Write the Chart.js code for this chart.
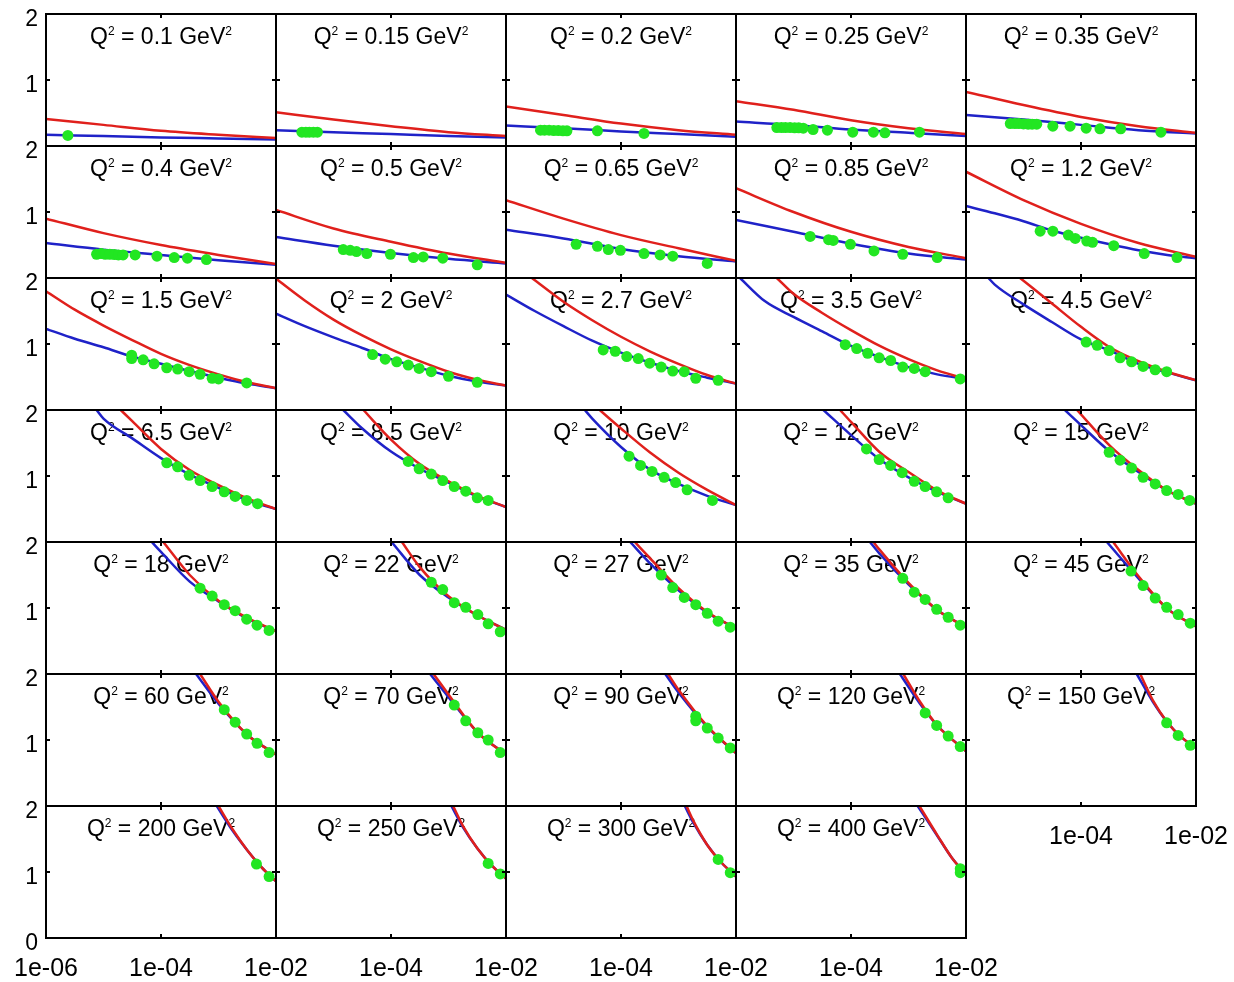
<!DOCTYPE html>
<html>
<head>
<meta charset="utf-8">
<title>F2 vs x</title>
<script src="https://cdn.jsdelivr.net/npm/chart.js@4/dist/chart.umd.min.js"></script>
<style>
  html, body { margin: 0; padding: 0; background: #fff; overflow: hidden; }
  #grid { position: relative; width: 1234px; height: 982px; overflow: hidden; }
  #grid canvas { position: absolute; }
</style>
</head>
<body>
<div id="grid"></div>
<script>
// Q^2 of each panel, row by row
const q2Labels = ['0.1', '0.15', '0.2', '0.25', '0.35',
  '0.4', '0.5', '0.65', '0.85', '1.2',
  '1.5', '2', '2.7', '3.5', '4.5',
  '6.5', '8.5', '10', '12', '15',
  '18', '22', '27', '35', '45',
  '60', '70', '90', '120', '150',
  '200', '250', '300', '400'];

// curves as [log10(x), value]
const redCurves = [
  [[-6, 0.41], [-5, 0.32], [-4, 0.23], [-3, 0.17], [-2, 0.12]],
  [[-6, 0.51], [-5, 0.40], [-4, 0.30], [-3, 0.21], [-2, 0.15]],
  [[-6, 0.60], [-5, 0.47], [-4, 0.34], [-3, 0.24], [-2, 0.17]],
  [[-6, 0.68], [-5, 0.55], [-4, 0.39], [-3, 0.27], [-2, 0.18]],
  [[-6, 0.82], [-5, 0.62], [-4, 0.44], [-3, 0.30], [-2, 0.20]],
  [[-6, 0.90], [-5, 0.68], [-4, 0.50], [-3, 0.35], [-2, 0.21]],
  [[-6, 1.03], [-5, 0.75], [-4, 0.55], [-3, 0.37], [-2, 0.23]],
  [[-6, 1.18], [-5, 0.90], [-4, 0.65], [-3, 0.45], [-2, 0.26]],
  [[-6, 1.36], [-5, 1.00], [-4, 0.70], [-3, 0.47], [-2, 0.30]],
  [[-6, 1.61], [-5, 1.18], [-4, 0.82], [-3, 0.53], [-2, 0.32]],
  [[-6, 1.80], [-5.5, 1.52], [-5, 1.28], [-4.5, 1.06], [-4, 0.85], [-3.5, 0.68], [-3, 0.54], [-2.5, 0.42], [-2, 0.33]],
  [[-6, 1.99], [-5.5, 1.66], [-5, 1.37], [-4.5, 1.13], [-4, 0.92], [-3.5, 0.74], [-3, 0.58], [-2.5, 0.46], [-2, 0.37]],
  [[-5.55, 2.0], [-5, 1.64], [-4.5, 1.36], [-4, 1.11], [-3.5, 0.89], [-3, 0.70], [-2.5, 0.53], [-2, 0.40]],
  [[-5.29, 2.0], [-5, 1.76], [-4.5, 1.47], [-4, 1.21], [-3.5, 0.97], [-3, 0.77], [-2.5, 0.60], [-2, 0.47]],
  [[-5.06, 2.0], [-4.5, 1.61], [-4, 1.26], [-3.5, 0.95], [-3, 0.74], [-2.5, 0.58], [-2, 0.45]],
  [[-4.70, 2.0], [-4.5, 1.83], [-4, 1.41], [-3.5, 1.09], [-3, 0.86], [-2.5, 0.66], [-2, 0.50]],
  [[-4.48, 2.0], [-4, 1.55], [-3.5, 1.18], [-3, 0.92], [-2.5, 0.70], [-2, 0.53]],
  [[-4.37, 2.0], [-4, 1.72], [-3.5, 1.36], [-3, 1.05], [-2.5, 0.79], [-2, 0.56]],
  [[-4.19, 2.0], [-4, 1.82], [-3.5, 1.36], [-3, 1.06], [-2.5, 0.78], [-2, 0.58]],
  [[-4.07, 2.0], [-3.5, 1.46], [-3, 1.09], [-2.5, 0.78], [-2, 0.58]],
  [[-3.96, 2.0], [-3.5, 1.50], [-3, 1.11], [-2.5, 0.85], [-2, 0.65]],
  [[-3.81, 2.0], [-3.5, 1.62], [-3, 1.18], [-2.5, 0.89], [-2, 0.67]],
  [[-3.76, 2.0], [-3.5, 1.76], [-3, 1.30], [-2.5, 0.94], [-2, 0.69]],
  [[-3.61, 2.0], [-3.5, 1.88], [-3, 1.38], [-2.5, 0.97], [-2, 0.71]],
  [[-3.44, 2.0], [-3, 1.48], [-2.5, 0.99], [-2, 0.72]],
  [[-3.32, 2.0], [-3, 1.58], [-2.5, 1.08], [-2, 0.78]],
  [[-3.26, 2.0], [-3, 1.69], [-2.5, 1.12], [-2, 0.78]],
  [[-3.18, 2.0], [-3, 1.76], [-2.5, 1.21], [-2, 0.80]],
  [[-3.09, 2.0], [-2.8, 1.58], [-2.5, 1.22], [-2, 0.83]],
  [[-2.97, 2.0], [-2.75, 1.60], [-2.5, 1.27], [-2.25, 1.04], [-2, 0.88]],
  [[-3.0, 2.0], [-2.75, 1.64], [-2.5, 1.33], [-2.25, 1.07], [-2, 0.86]],
  [[-2.92, 2.0], [-2.75, 1.70], [-2.5, 1.36], [-2.25, 1.10], [-2, 0.90]],
  [[-2.86, 2.0], [-2.75, 1.79], [-2.5, 1.41], [-2.25, 1.14], [-2, 0.93]],
  [[-2.81, 2.0], [-2.5, 1.56], [-2.25, 1.22], [-2, 0.96]]
];

const blueCurves = [
  [[-6, 0.17], [-5, 0.15], [-4, 0.13], [-3, 0.115], [-2, 0.10]],
  [[-6, 0.24], [-5, 0.21], [-4, 0.18], [-3, 0.15], [-2, 0.13]],
  [[-6, 0.31], [-5, 0.27], [-4, 0.22], [-3, 0.18], [-2, 0.14]],
  [[-6, 0.37], [-5, 0.32], [-4, 0.25], [-3, 0.20], [-2, 0.15]],
  [[-6, 0.47], [-5, 0.40], [-4, 0.32], [-3, 0.24], [-2, 0.19]],
  [[-6, 0.53], [-5, 0.43], [-4, 0.35], [-3, 0.27], [-2, 0.20]],
  [[-6, 0.62], [-5, 0.49], [-4, 0.38], [-3, 0.29], [-2, 0.22]],
  [[-6, 0.73], [-5, 0.60], [-4, 0.44], [-3, 0.33], [-2, 0.25]],
  [[-6, 0.88], [-5, 0.70], [-4, 0.52], [-3, 0.37], [-2, 0.28]],
  [[-6, 1.09], [-5.5, 0.98], [-5, 0.86], [-4.5, 0.72], [-4, 0.61], [-3.5, 0.51], [-3, 0.42], [-2.5, 0.35], [-2, 0.30]],
  [[-6, 1.23], [-5.5, 1.08], [-5, 0.95], [-4.5, 0.81], [-4, 0.70], [-3.5, 0.59], [-3, 0.49], [-2.5, 0.40], [-2, 0.33]],
  [[-6, 1.46], [-5.5, 1.27], [-5, 1.10], [-4.5, 0.94], [-4, 0.77], [-3.5, 0.64], [-3, 0.52], [-2.5, 0.43], [-2, 0.37]],
  [[-6, 1.75], [-5.5, 1.50], [-5, 1.27], [-4.5, 1.05], [-4, 0.87], [-3.5, 0.72], [-3, 0.59], [-2.5, 0.49], [-2, 0.40]],
  [[-5.93, 2.0], [-5.5, 1.65], [-5, 1.41], [-4.5, 1.19], [-4, 0.97], [-3.5, 0.80], [-3, 0.65], [-2.5, 0.54], [-2, 0.47]],
  [[-5.61, 2.0], [-5.5, 1.90], [-5, 1.60], [-4.5, 1.33], [-4, 1.07], [-3.5, 0.90], [-3, 0.70], [-2.5, 0.57], [-2, 0.45]],
  [[-5.12, 2.0], [-5, 1.87], [-4.5, 1.57], [-4, 1.27], [-3.5, 1.02], [-3, 0.82], [-2.5, 0.63], [-2, 0.50]],
  [[-4.83, 2.0], [-4.5, 1.72], [-4, 1.37], [-3.5, 1.11], [-3, 0.90], [-2.5, 0.69], [-2, 0.53]],
  [[-4.63, 2.0], [-4.5, 1.87], [-4, 1.44], [-3.5, 1.10], [-3, 0.88], [-2.5, 0.70], [-2, 0.56]],
  [[-4.48, 2.0], [-4, 1.62], [-3.5, 1.25], [-3, 0.98], [-2.5, 0.76], [-2, 0.58]],
  [[-4.28, 2.0], [-4, 1.77], [-3.5, 1.37], [-3, 1.06], [-2.5, 0.78], [-2, 0.58]],
  [[-4.16, 2.0], [-4, 1.85], [-3.5, 1.40], [-3, 1.10], [-2.5, 0.84], [-2, 0.65]],
  [[-3.99, 2.0], [-3.5, 1.50], [-3, 1.16], [-2.5, 0.89], [-2, 0.67]],
  [[-3.84, 2.0], [-3.5, 1.68], [-3, 1.27], [-2.5, 0.93], [-2, 0.69]],
  [[-3.67, 2.0], [-3.5, 1.82], [-3, 1.36], [-2.5, 0.97], [-2, 0.71]],
  [[-3.55, 2.0], [-3, 1.45], [-2.5, 0.99], [-2, 0.72]],
  [[-3.39, 2.0], [-3, 1.55], [-2.5, 1.08], [-2, 0.78]],
  [[-3.32, 2.0], [-3, 1.65], [-2.5, 1.12], [-2, 0.78]],
  [[-3.23, 2.0], [-3, 1.72], [-2.5, 1.20], [-2, 0.80]],
  [[-3.15, 2.0], [-2.8, 1.55], [-2.5, 1.22], [-2, 0.83]],
  [[-3.03, 2.0], [-2.75, 1.58], [-2.5, 1.27], [-2.25, 1.04], [-2, 0.88]],
  [[-3.03, 2.0], [-2.75, 1.62], [-2.5, 1.33], [-2.25, 1.07], [-2, 0.86]],
  [[-2.95, 2.0], [-2.75, 1.68], [-2.5, 1.36], [-2.25, 1.10], [-2, 0.90]],
  [[-2.89, 2.0], [-2.75, 1.76], [-2.5, 1.41], [-2.25, 1.14], [-2, 0.93]],
  [[-2.84, 2.0], [-2.5, 1.55], [-2.25, 1.22], [-2, 0.96]]
];

// measured points as [log10(x), value]
const dataPoints = [
  [[-5.62, 0.16]],
  [[-5.55, 0.21], [-5.48, 0.21], [-5.42, 0.21], [-5.35, 0.21], [-5.28, 0.21]],
  [[-5.40, 0.24], [-5.33, 0.24], [-5.25, 0.24], [-5.17, 0.235], [-5.09, 0.235], [-5.01, 0.23], [-4.94, 0.23], [-4.41, 0.23], [-3.60, 0.19]],
  [[-5.29, 0.28], [-5.21, 0.28], [-5.14, 0.28], [-5.06, 0.28], [-4.98, 0.275], [-4.91, 0.275], [-4.83, 0.27], [-4.66, 0.25], [-4.41, 0.24], [-3.97, 0.21], [-3.61, 0.21], [-3.41, 0.20], [-2.81, 0.21]],
  [[-5.23, 0.34], [-5.15, 0.34], [-5.08, 0.34], [-5.00, 0.335], [-4.92, 0.33], [-4.85, 0.33], [-4.77, 0.33], [-4.49, 0.30], [-4.19, 0.30], [-3.91, 0.27], [-3.67, 0.26], [-3.31, 0.26], [-2.61, 0.21]],
  [[-5.12, 0.36], [-5.04, 0.37], [-4.97, 0.36], [-4.89, 0.36], [-4.81, 0.355], [-4.74, 0.35], [-4.66, 0.35], [-4.45, 0.35], [-4.07, 0.33], [-3.77, 0.31], [-3.54, 0.30], [-3.21, 0.28]],
  [[-4.83, 0.43], [-4.71, 0.42], [-4.60, 0.40], [-4.42, 0.37], [-4.01, 0.36], [-3.61, 0.31], [-3.44, 0.32], [-3.10, 0.30], [-2.50, 0.20]],
  [[-4.78, 0.51], [-4.41, 0.48], [-4.22, 0.43], [-4.01, 0.42], [-3.60, 0.37], [-3.32, 0.35], [-3.10, 0.33], [-2.50, 0.22]],
  [[-4.71, 0.63], [-4.39, 0.58], [-4.31, 0.57], [-4.01, 0.51], [-3.60, 0.41], [-3.10, 0.36], [-2.50, 0.31]],
  [[-4.71, 0.71], [-4.49, 0.71], [-4.22, 0.65], [-4.10, 0.60], [-3.90, 0.56], [-3.80, 0.54], [-3.43, 0.49], [-2.90, 0.37], [-2.33, 0.31]],
  [[-4.51, 0.83], [-4.51, 0.78], [-4.31, 0.76], [-4.12, 0.70], [-3.90, 0.64], [-3.71, 0.62], [-3.51, 0.58], [-3.32, 0.54], [-3.11, 0.48], [-3.00, 0.47], [-2.51, 0.41]],
  [[-4.32, 0.84], [-4.10, 0.77], [-3.90, 0.73], [-3.70, 0.68], [-3.51, 0.63], [-3.30, 0.58], [-3.00, 0.51], [-2.50, 0.42]],
  [[-4.31, 0.91], [-4.10, 0.89], [-3.90, 0.81], [-3.70, 0.78], [-3.50, 0.71], [-3.30, 0.65], [-3.10, 0.59], [-2.90, 0.58], [-2.70, 0.48], [-2.31, 0.45]],
  [[-4.10, 0.99], [-3.90, 0.93], [-3.71, 0.86], [-3.51, 0.79], [-3.31, 0.75], [-3.10, 0.65], [-2.90, 0.63], [-2.71, 0.58], [-2.10, 0.47]],
  [[-3.91, 1.03], [-3.72, 0.98], [-3.51, 0.90], [-3.32, 0.79], [-3.12, 0.73], [-2.92, 0.66], [-2.71, 0.61], [-2.51, 0.58]],
  [[-3.90, 1.20], [-3.71, 1.14], [-3.51, 1.01], [-3.32, 0.93], [-3.11, 0.84], [-2.90, 0.76], [-2.71, 0.69], [-2.51, 0.63], [-2.32, 0.58]],
  [[-3.70, 1.22], [-3.51, 1.11], [-3.30, 1.03], [-3.10, 0.93], [-2.90, 0.84], [-2.70, 0.77], [-2.50, 0.67], [-2.31, 0.63]],
  [[-3.86, 1.30], [-3.66, 1.16], [-3.46, 1.07], [-3.25, 0.98], [-3.05, 0.90], [-2.85, 0.79], [-2.41, 0.63]],
  [[-3.73, 1.41], [-3.51, 1.25], [-3.31, 1.16], [-3.11, 1.05], [-2.90, 0.92], [-2.71, 0.84], [-2.51, 0.76], [-2.31, 0.67]],
  [[-3.51, 1.36], [-3.32, 1.24], [-3.12, 1.12], [-2.92, 0.98], [-2.71, 0.88], [-2.51, 0.78], [-2.31, 0.72], [-2.11, 0.63]],
  [[-3.32, 1.30], [-3.11, 1.18], [-2.90, 1.05], [-2.71, 0.96], [-2.51, 0.83], [-2.33, 0.74], [-2.12, 0.66]],
  [[-3.30, 1.39], [-3.10, 1.28], [-2.90, 1.08], [-2.70, 1.01], [-2.49, 0.90], [-2.31, 0.76], [-2.10, 0.64]],
  [[-3.30, 1.50], [-3.10, 1.31], [-2.90, 1.16], [-2.70, 1.05], [-2.50, 0.92], [-2.31, 0.80], [-2.10, 0.71]],
  [[-3.10, 1.45], [-2.90, 1.24], [-2.71, 1.13], [-2.51, 0.98], [-2.31, 0.86], [-2.10, 0.74]],
  [[-3.13, 1.56], [-2.92, 1.34], [-2.71, 1.15], [-2.51, 1.01], [-2.31, 0.90], [-2.10, 0.77]],
  [[-2.90, 1.46], [-2.71, 1.27], [-2.51, 1.09], [-2.33, 0.95], [-2.12, 0.81]],
  [[-2.90, 1.53], [-2.70, 1.29], [-2.49, 1.11], [-2.31, 1.00], [-2.10, 0.81]],
  [[-2.70, 1.36], [-2.70, 1.29], [-2.50, 1.18], [-2.31, 1.03], [-2.10, 0.88]],
  [[-2.71, 1.41], [-2.51, 1.22], [-2.31, 1.06], [-2.10, 0.90]],
  [[-2.51, 1.26], [-2.31, 1.07], [-2.10, 0.92]],
  [[-2.34, 1.12], [-2.12, 0.93]],
  [[-2.31, 1.13], [-2.10, 0.97]],
  [[-2.31, 1.19], [-2.10, 0.99]],
  [[-2.10, 1.05], [-2.10, 0.99]]
];

const xTickValues = [1e-6, 1e-4, 1e-2];
const xTickLabels = ['1e-06', '1e-04', '1e-02'];
const yTickValues = [0, 1, 2];
const yTickLabels = ['0', '1', '2'];

const nCols = 5;
const panelW = 230, panelH = 132;
const gridLeft = 46, gridTop = 14;
const pad = { left: 55, right: 55, top: 25, bottom: 55 };
const xAxisH = 48, yAxisW = 40;
const fontFamily = '"Liberation Sans", Arial, Helvetica, sans-serif';

function toXY(list) {
  return list.map(p => ({ x: Math.pow(10, p[0]), y: p[1] }));
}

// panel title under the curves, frame and small tick marks on top
const panelDecor = {
  id: 'panelDecor',
  beforeDatasetsDraw(chart, args, opts) {
    const { ctx, chartArea: a } = chart;
    const big = '23px ' + fontFamily;
    const small = '12px ' + fontFamily;
    const parts = [
      { t: 'Q', f: big, dy: 0 },
      { t: '2', f: small, dy: -9 },
      { t: ' = ' + opts.q2 + ' GeV', f: big, dy: 0 },
      { t: '2', f: small, dy: -9 }
    ];
    ctx.save();
    let w = 0;
    parts.forEach(p => { ctx.font = p.f; p.w = ctx.measureText(p.t).width; w += p.w; });
    let x = (a.left + a.right) / 2 - w / 2;
    const base = a.top + 30;
    ctx.fillStyle = '#000';
    ctx.textAlign = 'left';
    ctx.textBaseline = 'alphabetic';
    parts.forEach(p => { ctx.font = p.f; ctx.fillText(p.t, x, base + p.dy); x += p.w; });
    ctx.restore();
  },
  afterDraw(chart) {
    const { ctx, chartArea: a, scales } = chart;
    ctx.save();
    ctx.strokeStyle = '#000';
    ctx.lineWidth = 2;
    ctx.strokeRect(a.left, a.top, a.right - a.left, a.bottom - a.top);
    const mx = scales.x.getPixelForValue(1e-4);
    const my = scales.y.getPixelForValue(1);
    ctx.beginPath();
    ctx.moveTo(mx, a.top); ctx.lineTo(mx, a.top + 4);
    ctx.moveTo(mx, a.bottom); ctx.lineTo(mx, a.bottom - 4);
    ctx.moveTo(a.left, my); ctx.lineTo(a.left + 4, my);
    ctx.moveTo(a.right, my); ctx.lineTo(a.right - 4, my);
    ctx.stroke();
    ctx.restore();
  }
};

const grid = document.getElementById('grid');

q2Labels.forEach((q2, i) => {
  const row = Math.floor(i / nCols);
  const col = i % nCols;
  const showX = i + nCols >= q2Labels.length;  // lowest panel of its column
  const showY = col === 0;
  const showZero = row === 6;

  const canvas = document.createElement('canvas');
  canvas.width = panelW + pad.left + pad.right;
  canvas.height = panelH + pad.top + pad.bottom;
  canvas.style.left = (gridLeft + col * panelW - pad.left) + 'px';
  canvas.style.top = (gridTop + row * panelH - pad.top) + 'px';
  grid.appendChild(canvas);

  new Chart(canvas, {
    type: 'scatter',
    data: {
      datasets: [
        {
          data: toXY(dataPoints[i]),
          showLine: false,
          pointRadius: 5.5,
          pointBorderWidth: 0,
          pointBackgroundColor: '#22e622',
          clip: 0
        },
        {
          data: toXY(redCurves[i]),
          showLine: true,
          borderColor: '#e0201c',
          borderWidth: 2.5,
          pointRadius: 0,
          cubicInterpolationMode: 'monotone',
          clip: 0
        },
        {
          data: toXY(blueCurves[i]),
          showLine: true,
          borderColor: '#1f22c8',
          borderWidth: 2.5,
          pointRadius: 0,
          cubicInterpolationMode: 'monotone',
          clip: 0
        }
      ]
    },
    options: {
      responsive: false,
      animation: false,
      events: [],
      layout: {
        padding: {
          left: showY ? pad.left - yAxisW : pad.left,
          right: pad.right,
          top: pad.top,
          bottom: showX ? pad.bottom - xAxisH : pad.bottom
        }
      },
      plugins: {
        legend: { display: false },
        tooltip: { enabled: false },
        panelDecor: { q2: q2 }
      },
      scales: {
        x: {
          type: 'logarithmic',
          min: 1e-6,
          max: 1e-2,
          grid: { display: false, drawTicks: false },
          border: { display: false },
          afterBuildTicks: s => { s.ticks = xTickValues.map(v => ({ value: v })); },
          afterFit: s => { s.height = showX ? xAxisH : 0; },
          ticks: {
            display: showX,
            autoSkip: false,
            maxRotation: 0,
            minRotation: 0,
            padding: 16,
            color: '#000',
            font: { family: fontFamily, size: 25 },
            callback: (v, idx) => (idx === 0 && col > 0) ? '' : xTickLabels[idx]
          }
        },
        y: {
          type: 'linear',
          min: 0,
          max: 2,
          grid: { display: false, drawTicks: false },
          border: { display: false },
          afterBuildTicks: s => { s.ticks = yTickValues.map(v => ({ value: v })); },
          afterFit: s => { s.width = showY ? yAxisW : 0; },
          ticks: {
            display: showY,
            autoSkip: false,
            padding: 8,
            labelOffset: 6,
            color: '#000',
            font: { family: fontFamily, size: 23 },
            callback: (v, idx) => (idx === 0 && !showZero) ? '' : yTickLabels[idx]
          }
        }
      }
    },
    plugins: [panelDecor]
  });
});
</script>
</body>
</html>
